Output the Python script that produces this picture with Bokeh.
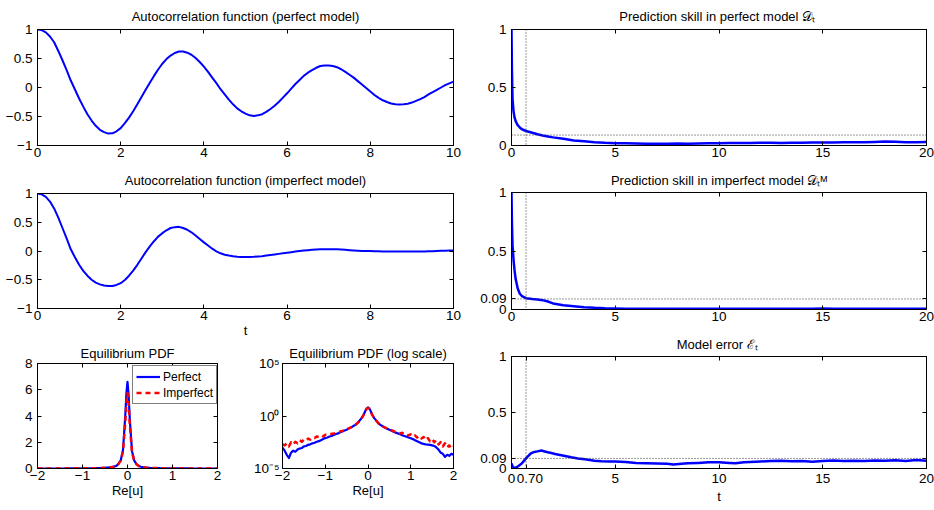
from bokeh.plotting import figure
from bokeh.layouts import row, column
from bokeh.models import Range1d, FixedTicker, LinearAxis, LogAxis, Span, Legend, LegendItem
from bokeh.embed import file_html
from bokeh.resources import INLINE

# ---------------- data ----------------
acf_t = [0.0, 0.1, 0.2, 0.3, 0.4, 0.5, 0.6, 0.7, 0.8, 0.9,
         1.0, 1.1, 1.2, 1.3, 1.4, 1.5, 1.6, 1.7, 1.8, 1.9,
         2.0, 2.1, 2.2, 2.3, 2.4, 2.5, 2.6, 2.7, 2.8, 2.9,
         3.0, 3.1, 3.2, 3.3, 3.4, 3.5, 3.6, 3.7, 3.8, 3.9,
         4.0, 4.1, 4.2, 4.3, 4.4, 4.5, 4.6, 4.7, 4.8, 4.9,
         5.0, 5.1, 5.2, 5.3, 5.4, 5.5, 5.6, 5.7, 5.8, 5.9,
         6.0, 6.1, 6.2, 6.3, 6.4, 6.5, 6.6, 6.7, 6.8, 6.9,
         7.0, 7.1, 7.2, 7.3, 7.4, 7.5, 7.6, 7.7, 7.8, 7.9,
         8.0, 8.1, 8.2, 8.3, 8.4, 8.5, 8.6, 8.7, 8.8, 8.9,
         9.0, 9.1, 9.2, 9.3, 9.4, 9.5, 9.6, 9.7, 9.8, 9.9,
         10.0]
acf_perfect = [1.00, 0.99, 0.95, 0.88, 0.78, 0.63, 0.47, 0.30, 0.12, -0.035,
               -0.19, -0.33, -0.46, -0.57, -0.66, -0.73, -0.77, -0.795, -0.79, -0.755,
               -0.70, -0.615, -0.52, -0.41, -0.29, -0.165, -0.04, 0.08, 0.20, 0.31,
               0.41, 0.49, 0.55, 0.595, 0.62, 0.62, 0.60, 0.565, 0.51, 0.44,
               0.36, 0.27, 0.17, 0.075, -0.03, -0.12, -0.21, -0.29, -0.36, -0.41,
               -0.45, -0.48, -0.49, -0.48, -0.46, -0.42, -0.37, -0.315, -0.25, -0.175,
               -0.10, -0.02, 0.06, 0.13, 0.20, 0.255, 0.30, 0.34, 0.37, 0.38,
               0.38, 0.37, 0.35, 0.315, 0.27, 0.22, 0.17, 0.11, 0.05, -0.01,
               -0.07, -0.13, -0.18, -0.22, -0.25, -0.275, -0.29, -0.295, -0.29, -0.28,
               -0.26, -0.23, -0.20, -0.165, -0.12, -0.08, -0.04, 0.00, 0.04, 0.07,
               0.10]
acf_imperfect = [1.00, 0.985, 0.94, 0.86, 0.74, 0.58, 0.40, 0.22, 0.03, -0.11,
                 -0.24, -0.345, -0.43, -0.50, -0.55, -0.58, -0.60, -0.61, -0.61, -0.59,
                 -0.56, -0.505, -0.43, -0.34, -0.24, -0.13, -0.02, 0.08, 0.17, 0.25,
                 0.31, 0.36, 0.40, 0.415, 0.42, 0.40, 0.37, 0.325, 0.27, 0.21,
                 0.15, 0.095, 0.04, -0.005, -0.04, -0.065, -0.08, -0.092, -0.10, -0.103,
                 -0.105, -0.103, -0.10, -0.095, -0.09, -0.08, -0.07, -0.06, -0.05, -0.04,
                 -0.03, -0.02, -0.01, 0.0, 0.01, 0.015, 0.02, 0.025, 0.03, 0.03,
                 0.03, 0.03, 0.03, 0.025, 0.02, 0.015, 0.01, 0.005, 0.0, 0.0,
                 0.0, -0.003, -0.005, -0.008, -0.01, -0.01, -0.01, -0.01, -0.01, -0.01,
                 -0.01, -0.01, -0.01, -0.008, -0.005, -0.003, 0.0, 0.003, 0.005, 0.008,
                 0.01]

pdf_x = [-2.00, -1.95, -1.90, -1.85, -1.80, -1.75, -1.70, -1.65, -1.60, -1.55,
         -1.50, -1.45, -1.40, -1.35, -1.30, -1.25, -1.20, -1.15, -1.10, -1.05,
         -1.00, -0.95, -0.90, -0.85, -0.80, -0.75, -0.70, -0.65, -0.60, -0.55,
         -0.50, -0.45, -0.40, -0.35, -0.30, -0.25, -0.20, -0.15, -0.10, -0.05,
         -0.025, 0.00, 0.025,
         0.05, 0.10, 0.15, 0.20, 0.25, 0.30, 0.35, 0.40, 0.45, 0.50,
         0.55, 0.60, 0.65, 0.70, 0.75, 0.80, 0.85, 0.90, 0.95, 1.00,
         1.05, 1.10, 1.15, 1.20, 1.25, 1.30, 1.35, 1.40, 1.45, 1.50,
         1.55, 1.60, 1.65, 1.70, 1.75, 1.80, 1.85, 1.90, 1.95, 2.00]
pdf_perfect = [1.0e-3, 5.0e-4, 2.0e-4, 1.0e-4, 3.2e-4, 5.0e-4, 4.0e-4, 6.3e-4, 7.9e-4, 8.9e-4,
               1.26e-3, 1.4e-3, 1.8e-3, 2.0e-3, 2.5e-3, 2.8e-3, 3.5e-3, 4.0e-3, 5.0e-3, 6.3e-3,
               7.9e-3, 8.9e-3, 1.12e-2, 1.26e-2, 1.6e-2, 1.9e-2, 2.2e-2, 2.8e-2, 3.3e-2, 4.2e-2,
               5.0e-2, 6.3e-2, 7.9e-2, 0.105, 0.141, 0.20, 0.355, 0.63, 1.41, 4.0,
               5.7, 6.6, 5.6,
               3.8, 1.32, 0.60, 0.34, 0.19, 0.135, 0.10, 7.6e-2, 6.0e-2, 4.8e-2,
               4.0e-2, 3.2e-2, 2.6e-2, 2.2e-2, 1.8e-2, 1.5e-2, 1.26e-2, 1.07e-2, 8.9e-3, 7.6e-3,
               6.3e-3, 5.0e-3, 4.0e-3, 3.2e-3, 2.5e-3, 2.2e-3, 2.0e-3, 1.9e-3, 1.8e-3, 1.6e-3,
               1.4e-3, 1.0e-3, 6.3e-4, 3.2e-4, 2.5e-4, 1.26e-4, 2.0e-4, 1.6e-4, 2.5e-4, 2.0e-4]
pdf_imperfect = [2.0e-3, 1.6e-3, 2.5e-3, 1.26e-3, 3.2e-3, 2.0e-3, 3.5e-3, 2.5e-3, 5.0e-3, 3.5e-3,
                 5.6e-3, 4.5e-3, 7.1e-3, 5.6e-3, 8.9e-3, 7.9e-3, 1.12e-2, 1.0e-2, 1.4e-2, 1.12e-2,
                 1.6e-2, 1.6e-2, 1.9e-2, 2.0e-2, 2.2e-2, 2.5e-2, 2.8e-2, 3.3e-2, 3.8e-2, 4.5e-2,
                 5.4e-2, 6.6e-2, 8.3e-2, 0.107, 0.141, 0.20, 0.35, 0.60, 1.3, 3.5,
                 5.0, 5.75, 4.9,
                 3.4, 1.25, 0.57, 0.33, 0.19, 0.13, 0.10, 7.9e-2, 6.3e-2, 5.2e-2,
                 4.4e-2, 3.5e-2, 3.2e-2, 2.8e-2, 2.2e-2, 2.5e-2, 1.8e-2, 2.0e-2, 1.4e-2, 1.8e-2,
                 1.1e-2, 1.4e-2, 8.9e-3, 1.26e-2, 7.1e-3, 1.0e-2, 5.0e-3, 7.9e-3, 4.0e-3, 6.3e-3,
                 3.2e-3, 5.0e-3, 2.0e-3, 3.2e-3, 1.26e-3, 2.5e-3, 1.0e-3, 1.6e-3, 7.9e-4, 1.26e-3]

skill_t = [0.0, 0.02, 0.05, 0.1, 0.15, 0.2, 0.3, 0.4, 0.5, 0.7, 1.0, 1.25, 1.5, 1.75, 2.0,
           2.5, 3.0, 3.5, 4.0, 4.5, 5.0, 5.5, 6.0, 6.5, 7.0, 7.5, 8.0, 8.5, 9.0, 9.5, 10.0,
           10.5, 11.0, 11.5, 12.0, 12.5, 13.0, 13.5, 14.0, 14.5, 15.0, 15.5, 16.0, 16.5,
           17.0, 17.5, 18.0, 18.5, 19.0, 19.5, 20.0]
skill_perfect = [1.0, 0.65, 0.40, 0.29, 0.24, 0.21, 0.175, 0.155, 0.14, 0.125, 0.11, 0.097, 0.086, 0.078, 0.07,
                 0.058, 0.043, 0.037, 0.029, 0.023, 0.020, 0.019, 0.017, 0.016, 0.015, 0.016, 0.017, 0.016,
                 0.018, 0.019, 0.020, 0.021, 0.022, 0.021, 0.023, 0.024, 0.022, 0.024, 0.023, 0.025,
                 0.026, 0.025, 0.027, 0.028, 0.027, 0.030, 0.034, 0.032, 0.029, 0.028, 0.030]
skill_imperfect = [1.0, 0.75, 0.55, 0.42, 0.33, 0.26, 0.18, 0.135, 0.115, 0.097, 0.09, 0.086, 0.08, 0.068, 0.052,
                   0.036, 0.028, 0.020, 0.014, 0.010, 0.008, 0.007, 0.006, 0.007, 0.006, 0.006, 0.007, 0.006,
                   0.007, 0.006, 0.007, 0.006, 0.007, 0.007, 0.006, 0.007, 0.006, 0.007, 0.007, 0.006,
                   0.008, 0.007, 0.006, 0.007, 0.007, 0.006, 0.007, 0.007, 0.006, 0.007, 0.006]

err_t = [0.0, 0.05, 0.1, 0.16, 0.25, 0.35, 0.48, 0.6, 0.72, 0.85,
         0.96, 1.1, 1.25, 1.44, 1.6, 1.75, 1.92, 2.1, 2.4, 2.88,
         3.2, 3.53, 4.0, 4.33, 4.75, 5.0, 5.5, 6.0, 6.5, 7.0,
         7.5, 7.8, 8.2, 8.5, 9.0, 9.5, 10.0, 10.5, 10.8, 11.2,
         11.5, 12.0, 12.5, 13.0, 13.5, 14.0, 14.5, 15.0, 15.5, 16.0,
         16.5, 17.0, 17.5, 18.0, 18.5, 19.0, 19.5, 20.0]
model_error = [0.045, 0.02, 0.008, 0.006, 0.012, 0.025, 0.042, 0.068, 0.095, 0.12,
               0.138, 0.148, 0.153, 0.16, 0.152, 0.145, 0.138, 0.13, 0.118, 0.10,
               0.09, 0.082, 0.07, 0.064, 0.062, 0.063, 0.058, 0.05, 0.047, 0.045,
               0.042, 0.036, 0.042, 0.046, 0.05, 0.055, 0.056, 0.05, 0.046, 0.055,
               0.058, 0.062, 0.068, 0.07, 0.064, 0.066, 0.06, 0.068, 0.072, 0.066,
               0.07, 0.068, 0.072, 0.07, 0.074, 0.068, 0.075, 0.07]

t_cross = 0.70      # time where the skill falls below the threshold
threshold = 0.09    # skill threshold

acf_xticks = [0, 2, 4, 6, 8, 10]
acf_yticks = [-1, -0.5, 0, 0.5, 1]
pdf_xticks = [-2, -1, 0, 1, 2]
pdf_yticks = [0, 2, 4, 6, 8]
log_yticks = [1e-5, 1.0, 1e5]
log_ylabels = {1e-5: "10\u207b\u2075", 1.0: "10\u2070", 1e5: "10\u2075"}
skill_xticks = [0, 5, 10, 15, 20]
skill_yticks = [0, 0.5, 1]
skill_yticks_thr = [0, 0.09, 0.5, 1]

# ---------------- styling helpers ----------------
FONT = "Liberation Sans"
TICK = "13.5px"
TITLE = "13px"
BLUE = "#0000ff"
RED = "#ff0000"
DOT = "#333333"


def fmt(v):
    s = f"{abs(v):g}"
    return ("\u2212" + s) if v < 0 else s


def axis_style(ax, ticks, show=True, special=None, standoff=3):
    ax.ticker = FixedTicker(ticks=ticks)
    ax.major_tick_in = 4
    ax.major_tick_out = 0
    ax.minor_tick_line_color = None
    ax.axis_line_color = "black"
    ax.major_tick_line_color = "black"
    ax.major_label_text_font = FONT
    ax.major_label_text_color = "black"
    if show:
        ax.major_label_text_font_size = TICK
        ax.major_label_standoff = standoff
        d = {t: fmt(t) for t in ticks}
        if special:
            d.update(special)
        ax.major_label_overrides = d
    else:
        ax.major_label_text_font_size = "0px"
        ax.major_label_standoff = 0
        ax.major_label_overrides = {t: "" for t in ticks}
    ax.axis_label_text_font = FONT
    ax.axis_label_text_font_size = "13px"
    ax.axis_label_text_font_style = "normal"
    ax.axis_label_text_color = "black"
    ax.axis_label_standoff = 0


def make(w, h, borders, xr, yr, xt, yt, title, ylog=False, xspecial=None, yspecial=None,
         xlabel=None, standoff=10, ystand=5):
    bl, br, bt, bb = borders
    p = figure(width=w, height=h, x_range=Range1d(*xr), y_range=Range1d(*yr),
               y_axis_type="log" if ylog else "linear", output_backend="svg",
               toolbar_location=None, min_border_left=bl, min_border_right=br,
               min_border_top=bt, min_border_bottom=bb)
    p.title.text = title
    p.title.align = "center"
    p.title.text_font = FONT
    p.title.text_font_size = TITLE
    p.title.text_font_style = "normal"
    p.title.text_color = "black"
    p.title.standoff = standoff
    p.grid.visible = False
    p.outline_line_color = "black"
    p.outline_line_width = 1
    p.background_fill_color = "white"
    p.border_fill_color = "white"
    axis_style(p.xaxis[0], xt, True, xspecial, standoff=2)
    axis_style(p.yaxis[0], yt, True, yspecial, standoff=ystand)
    if xlabel:
        p.xaxis[0].axis_label = xlabel
    top = LinearAxis()
    axis_style(top, xt, False)
    p.add_layout(top, "above")
    right = LogAxis() if ylog else LinearAxis()
    axis_style(right, yt, False)
    p.add_layout(right, "right")
    return p


# ---------------- left column (x 0..477) ----------------
p1 = make(477, 165, (37, 24, 28, 20), (0, 10), (-1, 1), acf_xticks, acf_yticks,
          "Autocorrelation function (perfect model)", standoff=12)
p1.line(acf_t, acf_perfect, line_color=BLUE, line_width=2, line_join="round")

p2 = make(477, 175, (37, 24, 27, 32), (0, 10), (-1, 1), acf_xticks, acf_yticks,
          "Autocorrelation function (imperfect model)", xlabel="t", standoff=11)
p2.line(acf_t, acf_imperfect, line_color=BLUE, line_width=2, line_join="round")

p3 = make(250, 166, (37, 33, 22, 38), (-2, 2), (0, 8), pdf_xticks, pdf_yticks,
          "Equilibrium PDF", xlabel="Re[u]", standoff=6)
rb = p3.line(pdf_x, pdf_perfect, line_color=BLUE, line_width=2.2, line_join="round")
rr = p3.line(pdf_x, pdf_imperfect, line_color=RED, line_width=2.5, line_dash="5 4",
             line_join="round")
legend = Legend(items=[LegendItem(label="Perfect", renderers=[rb]),
                       LegendItem(label="Imperfect", renderers=[rr])],
                location=(95, 64))
legend.border_line_color = "black"
legend.border_line_width = 1
legend.background_fill_color = "white"
legend.background_fill_alpha = 1.0
legend.label_text_font = FONT
legend.label_text_font_size = "12px"
legend.label_text_color = "black"
legend.glyph_width = 24
legend.glyph_height = 15
legend.label_height = 15
legend.label_standoff = 3
legend.padding = 3
legend.spacing = 1
legend.margin = 0
p3.add_layout(legend, "center")

p4 = make(227, 166, (23, 24, 22, 38), (-2, 2), (1e-5, 1e5), pdf_xticks, log_yticks,
          "Equilibrium PDF (log scale)", ylog=True, yspecial=log_ylabels, xlabel="Re[u]",
          standoff=6, ystand=3)
p4.line(pdf_x, pdf_perfect, line_color=BLUE, line_width=2.2, line_join="round")
p4.line(pdf_x, pdf_imperfect, line_color=RED, line_width=2.5, line_dash="5 4",
        line_join="round")

# ---------------- right column (x 477..934) ----------------
r1 = make(457, 165, (33, 8, 28, 20), (0, 20), (0, 1), skill_xticks, skill_yticks,
          "Prediction skill in perfect model  \U0001D49F\u209C", standoff=12)
r2 = make(457, 165, (33, 8, 26, 21), (0, 20), (0, 1), skill_xticks, skill_yticks_thr,
          "Prediction skill in imperfect model \U0001D49F\u209C\u1D39", standoff=10)
r3 = make(457, 176, (33, 8, 25, 33), (0, 20), (0, 1), skill_xticks + [t_cross], skill_yticks_thr,
          "Model error  \u2130\u209C", xspecial={t_cross: "\u20070.70"}, xlabel="t", standoff=9)

for fig in (r1, r2, r3):
    fig.add_layout(Span(location=threshold, dimension="width", line_color=DOT,
                        line_width=1, line_dash="1 2"))
    fig.add_layout(Span(location=t_cross, dimension="height", line_color=DOT,
                        line_width=1, line_dash="1 2"))

r1.line(skill_t, skill_perfect, line_color=BLUE, line_width=2.5, line_join="round")
r2.line(skill_t, skill_imperfect, line_color=BLUE, line_width=2.5, line_join="round")
r3.line(err_t, model_error, line_color=BLUE, line_width=2.5, line_join="round")

layout = row(column(p1, p2, row(p3, p4)), column(r1, r2, r3))

with open("out.html", "w") as f:
    f.write(file_html(layout, INLINE))
